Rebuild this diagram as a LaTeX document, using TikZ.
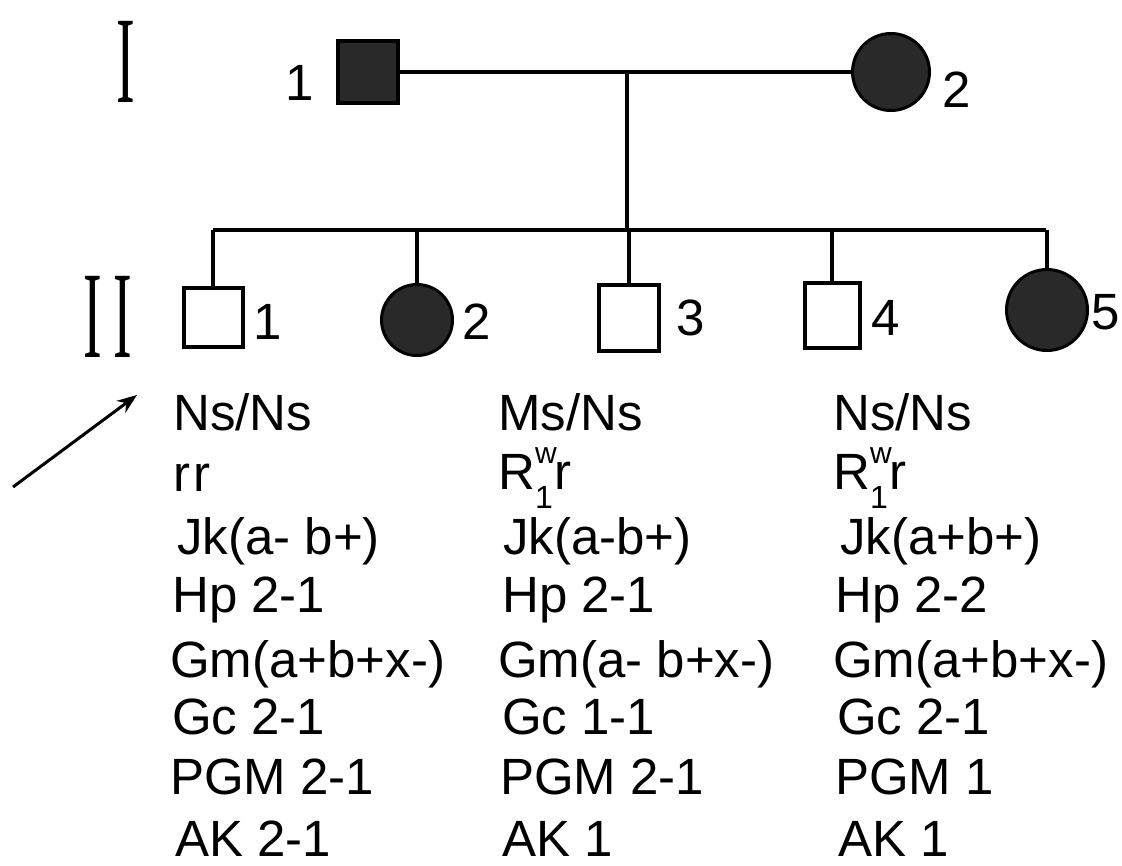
\documentclass[tikz,border=0pt]{standalone}
\usepackage{fontspec}
\setmainfont{Liberation Sans}
\newfontfamily\romanfont{Liberation Serif}
\usepackage{graphicx}
\usetikzlibrary{arrows.meta}
\newcommand\Rwone{R\rlap{\raisebox{0.5em}{\fontsize{30}{30}\selectfont w}}\raisebox{-0.38em}{\fontsize{32}{32}\selectfont 1}\kern2pt r}
\newcommand\romI{\scalebox{0.45}[1]{I}}
\begin{document}
\begin{tikzpicture}[x=1pt,y=-1pt,
  pline/.style={line width=3.5pt},
  sqbox/.style={draw, line width=4pt, rectangle, inner sep=0pt},
  circbox/.style={draw, line width=3pt, circle, inner sep=0pt},
  aff/.style={fill=black!84},
  gtxt/.style={anchor=base west, inner sep=0pt, font=\fontsize{51}{51}\selectfont},
  num/.style={inner sep=0pt, font=\fontsize{51}{51}\selectfont},
  gen/.style={inner sep=0pt, font=\romanfont\fontsize{124}{124}\selectfont}]
\useasboundingbox (0,0) rectangle (1122,865);

% generation numerals
\node[gen] (genI) at (126,62) {\romI};
\node[gen] (genIIa) at (93,317) {\romI};
\node[gen] (genIIb) at (123,317) {\romI};

% generation I
\node[sqbox, aff, minimum width=60pt, minimum height=62pt] (p1) at (368,72) {};
\node[circbox, aff, minimum size=77pt] (p2) at (891,72) {};
\node[num] (lp1) at (300,83) {1};
\node[num] (lp2) at (957,90) {2};

\draw[pline] (p1) -- (p2);
\coordinate (mid) at (627,72);
\coordinate (sibL) at (213,230);
\coordinate (sibR) at (1046,230);
\draw[pline] (mid) -- (mid |- sibL);
\draw[pline] (sibL) -- (sibR);

% generation II
\node[sqbox, fill=white, minimum width=59pt, minimum height=59pt] (c1) at (213,317) {};
\node[circbox, aff, minimum size=71pt] (c2) at (417,320) {};
\node[sqbox, fill=white, minimum width=60pt, minimum height=66pt] (c3) at (629,318) {};
\node[sqbox, fill=white, minimum width=55pt, minimum height=65pt] (c4) at (832,315) {};
\node[circbox, aff, minimum size=81pt] (c5) at (1047,310) {};

\foreach \c in {c1,c2,c3,c4,c5}{
  \draw[pline] (\c.north) -- (\c.north |- sibL);
}

\node[num] (l1) at (268,322) {1};
\node[num] (l2) at (477,322) {2};
\node[num] (l3) at (691,318) {3};
\node[num] (l4) at (886,318) {4};
\node[num] (l5) at (1106,312) {5};

% proband arrow
\coordinate (arrS) at (13,487);
\coordinate (arrE) at (137,395);
\draw[line width=3pt, -{Stealth[length=20pt,width=15pt]}] (arrS) -- (arrE);

% column 1
\node[gtxt] (a1) at (173,430) {Ns/Ns};
\node[gtxt] (a2) at (173,491) {r\kern3pt r};
\node[gtxt] (a3) at (177,554) {Jk(a- b+)};
\node[gtxt] (a4) at (172,612) {Hp 2-1};
\node[gtxt] (a5) at (170,677) {Gm(a+b+x-)};
\node[gtxt] (a6) at (172,734) {Gc 2-1};
\node[gtxt] (a7) at (170,794) {PGM 2-1};
\node[gtxt] (a8) at (175,856) {AK 2-1};

% column 2
\node[gtxt] (b1) at (498,430) {Ms/Ns};
\node[gtxt] (b2) at (498,489) {\Rwone};
\node[gtxt] (b3) at (503,554) {Jk(a-b+)};
\node[gtxt] (b4) at (502,612) {Hp 2-1};
\node[gtxt] (b5) at (498,677) {Gm(a- b+x-)};
\node[gtxt] (b6) at (502,734) {Gc 1-1};
\node[gtxt] (b7) at (500,794) {PGM 2-1};
\node[gtxt] (b8) at (502,856) {AK 1};

% column 3
\node[gtxt] (d1) at (833,430) {Ns/Ns};
\node[gtxt] (d2) at (833,489) {\Rwone};
\node[gtxt] (d3) at (840,554) {Jk(a+b+)};
\node[gtxt] (d4) at (835,612) {Hp 2-2};
\node[gtxt] (d5) at (833,677) {Gm(a+b+x-)};
\node[gtxt] (d6) at (837,734) {Gc 2-1};
\node[gtxt] (d7) at (835,794) {PGM 1};
\node[gtxt] (d8) at (838,856) {AK 1};
\end{tikzpicture}
\end{document}
